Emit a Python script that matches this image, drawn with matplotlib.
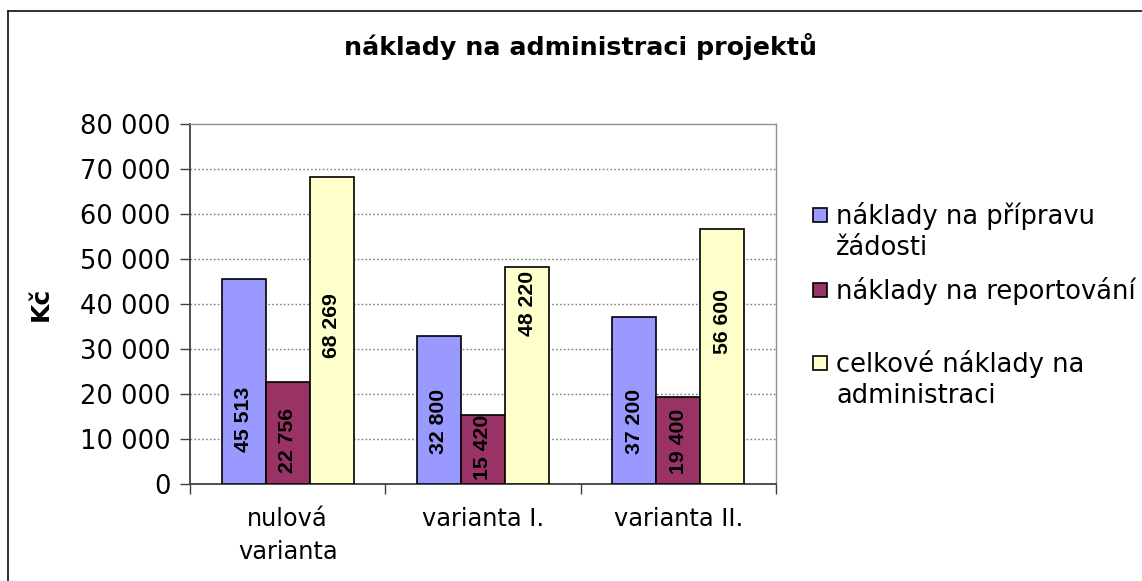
import matplotlib
matplotlib.use("Agg")
import matplotlib.pyplot as plt
from matplotlib.ticker import FuncFormatter, FixedLocator, MultipleLocator, NullFormatter
from matplotlib.patches import Rectangle
from matplotlib.lines import Line2D
from matplotlib import font_manager as fm
import matplotlib.transforms as mtransforms

categories = ["nulová\nvarianta", "varianta I.", "varianta II."]
series_names = ["náklady na přípravu\nžádosti", "náklady na reportování",
                "celkové náklady na\nadministraci"]
priprava = [45513, 32800, 37200]
reportovani = [22756, 15420, 19400]
celkove = [68269, 48220, 56600]
title = "náklady na administraci projektů"
y_label = "Kč"

series = [priprava, reportovani, celkove]
colors = ["#9999FF", "#993366", "#FFFFCC"]
# vertical centres of the value labels (data units), as placed in the original
label_centres = [[14300, 13900, 13900], [9700, 8100, 9550], [35300, 40100, 36200]]

# find a regular-width Liberation Sans Bold (Arial-like)
bold_fp = fm.FontProperties(family="DejaVu Sans", weight="bold")
for f in fm.fontManager.ttflist:
    if f.name == "Liberation Sans" and f.weight in (700, "bold") and f.style == "normal" \
            and "Narrow" not in f.fname:
        bold_fp = fm.FontProperties(fname=f.fname)
        break

W, H = 1142, 581
fig = plt.figure(figsize=(W / 100, H / 100), dpi=100)
fig.patch.set_facecolor("white")

def fx(px):
    return px / W

def fy(py):
    return 1 - py / H

ax = fig.add_axes([fx(190), fy(484), fx(776) - fx(190), fy(124) - fy(484)])

fmt = lambda v: f"{v:,.0f}".replace(",", " ")

bw = 0.2253
for si, (vals, col) in enumerate(zip(series, colors)):
    xs = [i + (si - 1) * bw for i in range(len(categories))]
    ax.bar(xs, vals, width=bw, color=col, edgecolor="black", linewidth=1.2, zorder=3)
    for x, v, yc in zip(xs, vals, label_centres[si]):
        t = ax.text(x, yc, fmt(v), rotation=90, ha="center", va="center",
                    fontproperties=bold_fp, color="black", zorder=4)
        t.set_fontsize(15.3)

ax.set_xlim(-0.5, len(categories) - 0.5)
ax.set_ylim(0, 80000)
ax.yaxis.set_major_locator(MultipleLocator(10000))
ax.yaxis.set_major_formatter(FuncFormatter(lambda v, p: fmt(v)))
for yv in range(10000, 80000, 10000):
    ax.axhline(yv, color="#808080", linestyle=(0, (1.2, 1.6)), linewidth=1.0, zorder=1)

ax.set_xticks(range(len(categories)))
ax.xaxis.set_major_formatter(NullFormatter())
ax.xaxis.set_minor_locator(FixedLocator([i - 0.5 for i in range(len(categories) + 1)]))
ax.tick_params(axis="x", which="major", length=0)
ax.tick_params(axis="x", which="minor", length=7, width=1.0, color="#404040")
ax.tick_params(axis="y", which="major", length=7, width=1.0, color="#404040",
               labelsize=18.5, pad=7)

trans = mtransforms.blended_transform_factory(ax.transData, fig.transFigure)
for i, cat in enumerate(categories):
    ax.text(i, fy(507), cat, transform=trans, ha="center", va="top",
            fontsize=17.3, linespacing=1.45)

for side in ["left", "bottom"]:
    ax.spines[side].set_color("#404040")
    ax.spines[side].set_linewidth(1.3)
for side in ["top", "right"]:
    ax.spines[side].set_color("#909090")
    ax.spines[side].set_linewidth(1.0)

ax.set_ylabel(y_label, fontsize=18, fontweight="bold")
ax.yaxis.set_label_coords((53 - 190) / (776 - 190), 0.5)

fig.text(fx(580), fy(47), title, ha="center", va="center",
         fontsize=18.3, fontweight="bold")

# legend (handles aligned with the first line of each entry)
leg_rows = [215, 290, 363]
for name, col, yy in zip(series_names, colors, leg_rows):
    fig.add_artist(Rectangle((fx(813), fy(yy + 7)), fx(14), (14 / H),
                             facecolor=col, edgecolor="black", linewidth=1.2,
                             transform=fig.transFigure))
    fig.text(fx(836), fy(yy - 13), name, ha="left", va="top",
             fontsize=18.5, linespacing=1.27)

# outer chart frame (left & top edges visible)
fig.add_artist(Line2D([fx(8), fx(8)], [fy(11), 0], color="#202020", linewidth=1.3,
                      transform=fig.transFigure))
fig.add_artist(Line2D([fx(8), 1], [fy(11), fy(11)], color="#202020", linewidth=1.3,
                      transform=fig.transFigure))

fig.savefig("out.png", dpi=100)
